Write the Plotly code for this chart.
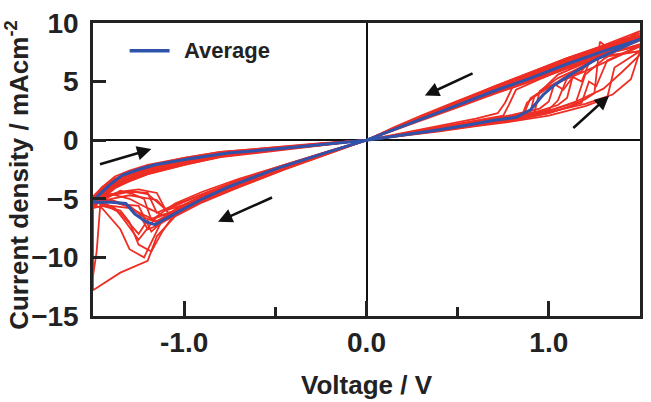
import plotly.graph_objects as go

# ---------------- data ----------------
avg_v = [0, 0.2, 0.4, 0.55, 0.7, 0.82, 0.9, 0.97, 1.03, 1.14, 1.26, 1.4, 1.5,
         1.3, 1.1, 0.9, 0.7, 0.5, 0.3, 0.15, 0,
         -0.2, -0.49, -0.76, -0.9, -1.03, -1.1, -1.16, -1.21, -1.27, -1.32, -1.4, -1.5,
         -1.47, -1.4, -1.34, -1.25, -1.16, -0.98, -0.76, -0.5, -0.25, 0]
avg_i = [0, 0.43, 0.9, 1.27, 1.7, 1.95, 2.6, 3.9, 4.7, 5.8, 6.9, 7.9, 8.6,
         7.6, 6.5, 5.3, 4.2, 3.0, 1.8, 0.9, 0,
         -0.95, -2.4, -4.0, -5.0, -6.1, -6.7, -7.2, -6.95, -6.3, -5.4, -5.3, -5.3,
         -4.7, -3.7, -3.0, -2.5, -2.1, -1.6, -1.1, -0.75, -0.35, 0]

cyc1_v = [0, 0.2, 0.4, 0.6, 0.8, 0.92, 0.95, 1.05, 1.2, 1.35, 1.5, 1.3, 1.1, 0.9, 0.7, 0.5, 0.3, 0.15, 0,
          -0.2, -0.45, -0.7, -0.9, -1.05, -1.15, -1.22, -1.3, -1.4, -1.5,
          -1.45, -1.38, -1.3, -1.2, -1.0, -0.8, -0.5, -0.25, 0]
cyc1_i = [0, 0.45, 0.95, 1.45, 1.9, 2.3, 4.2, 5.3, 6.4, 7.6, 8.8, 7.7, 6.6, 5.4, 4.3, 3.1, 1.9, 0.95, 0,
          -1.0, -2.3, -3.7, -4.9, -6.0, -7.0, -6.6, -5.6, -5.2, -5.4,
          -4.6, -3.7, -3.2, -2.6, -1.8, -1.25, -0.75, -0.35, 0]

cyc2_v = [0, 0.2, 0.4, 0.6, 0.75, 0.78, 0.82, 0.95, 1.1, 1.3, 1.5, 1.3, 1.1, 0.9, 0.7, 0.5, 0.3, 0.15, 0,
          -0.2, -0.45, -0.7, -0.9, -1.05, -1.1, -1.2, -1.3, -1.4, -1.5,
          -1.45, -1.38, -1.3, -1.2, -1.0, -0.8, -0.5, -0.25, 0]
cyc2_i = [0, 0.55, 1.1, 1.65, 2.1, 3.0, 4.3, 5.2, 6.2, 7.5, 8.7, 7.8, 6.8, 5.6, 4.4, 3.2, 1.95, 1.0, 0,
          -0.9, -2.1, -3.4, -4.6, -5.6, -5.9, -4.6, -4.3, -4.6, -5.0,
          -4.2, -3.4, -2.8, -2.3, -1.6, -1.1, -0.65, -0.3, 0]

cyc3_v = [0, 0.2, 0.4, 0.6, 0.8, 1.0, 1.15, 1.3, 1.4, 1.5, 1.5, 1.3, 1.1, 0.9, 0.7, 0.5, 0.3, 0.15, 0,
          -0.2, -0.45, -0.7, -0.9, -1.05, -1.15, -1.2, -1.35, -1.5, -1.5,
          -1.45, -1.38, -1.3, -1.2, -1.0, -0.8, -0.5, -0.25, 0]
cyc3_i = [0, 0.4, 0.85, 1.3, 1.8, 2.5, 3.3, 4.4, 5.8, 7.3, 8.2, 7.3, 6.3, 5.2, 4.1, 2.9, 1.8, 0.9, 0,
          -1.1, -2.5, -4.0, -5.3, -6.5, -8.2, -10.3, -11.3, -12.8, -5.6,
          -4.9, -4.0, -3.4, -2.8, -1.9, -1.3, -0.8, -0.4, 0]

cyc4_v = [0, 0.2, 0.4, 0.6, 0.8, 0.95, 1.05, 1.1, 1.13, 1.18, 1.22, 1.3, 1.4, 1.5,
          1.3, 1.1, 0.9, 0.7, 0.5, 0.3, 0.15, 0,
          -0.2, -0.45, -0.7, -0.9, -1.05, -1.12, -1.22, -1.3, -1.35, -1.45, -1.5,
          -1.45, -1.38, -1.3, -1.2, -1.0, -0.8, -0.5, -0.25, 0]
cyc4_i = [0, 0.5, 1.0, 1.5, 2.0, 2.5, 3.0, 3.6, 5.4, 5.0, 6.6, 7.2, 8.0, 8.9,
          7.9, 6.9, 5.7, 4.5, 3.2, 2.0, 1.0, 0,
          -0.95, -2.2, -3.6, -4.8, -5.9, -6.8, -10.0, -9.3, -7.6, -5.8, -5.5,
          -4.4, -3.6, -3.0, -2.4, -1.7, -1.15, -0.7, -0.3, 0]

cyc5_v = [0, 0.2, 0.4, 0.6, 0.8, 0.86, 0.9, 1.0, 1.2, 1.4, 1.5, 1.3, 1.1, 0.9, 0.7, 0.5, 0.3, 0.15, 0,
          -0.2, -0.45, -0.7, -0.9, -1.0, -1.1, -1.15, -1.25, -1.35, -1.45, -1.5,
          -1.45, -1.38, -1.3, -1.2, -1.0, -0.8, -0.5, -0.25, 0]
cyc5_i = [0, 0.4, 0.85, 1.3, 1.75, 2.1, 3.6, 4.6, 5.9, 7.3, 8.0, 7.4, 6.3, 5.2, 4.1, 2.95, 1.8, 0.9, 0,
          -1.05, -2.4, -3.8, -4.9, -5.5, -6.0, -4.5, -4.2, -4.4, -4.9, -5.1,
          -4.5, -3.8, -3.3, -2.8, -2.0, -1.35, -0.85, -0.4, 0]

cyc6_v = [0, 0.2, 0.4, 0.6, 0.8, 1.0, 1.1, 1.2, 1.25, 1.28, 1.33, 1.4, 1.5,
          1.3, 1.1, 0.9, 0.7, 0.5, 0.3, 0.15, 0,
          -0.2, -0.45, -0.7, -0.9, -1.05, -1.15, -1.2, -1.25, -1.32, -1.4, -1.5,
          -1.45, -1.38, -1.3, -1.2, -1.0, -0.8, -0.5, -0.25, 0]
cyc6_i = [0, 0.4, 0.8, 1.25, 1.7, 2.3, 2.8, 3.5, 4.0, 8.4, 7.8, 8.6, 8.9,
          7.5, 6.5, 5.3, 4.2, 3.0, 1.85, 0.9, 0,
          -1.0, -2.35, -3.9, -5.2, -6.4, -7.3, -7.6, -6.2, -5.6, -5.2, -5.0,
          -4.3, -3.5, -3.0, -2.5, -1.8, -1.2, -0.75, -0.35, 0]

cyc7_v = [0, 0.2, 0.4, 0.6, 0.8, 0.95, 1.0, 1.03, 1.08, 1.15, 1.25, 1.4, 1.5,
          1.3, 1.1, 0.9, 0.7, 0.5, 0.3, 0.15, 0,
          -0.2, -0.45, -0.7, -0.9, -1.05, -1.15, -1.25, -1.32, -1.38, -1.45, -1.5,
          -1.45, -1.38, -1.3, -1.2, -1.0, -0.8, -0.5, -0.25, 0]
cyc7_i = [0, 0.5, 1.05, 1.6, 2.15, 2.7, 3.3, 4.8, 4.3, 5.8, 6.8, 8.3, 9.3,
          8.1, 7.0, 5.8, 4.6, 3.3, 2.05, 1.05, 0,
          -0.9, -2.1, -3.3, -4.4, -5.4, -6.5, -8.5, -7.0, -5.8, -5.3, -5.2,
          -4.2, -3.3, -2.7, -2.2, -1.5, -1.0, -0.6, -0.25, 0]

cyc8_v = [0, 0.2, 0.4, 0.6, 0.72, 0.76, 0.8, 0.9, 1.1, 1.3, 1.5, 1.3, 1.1, 0.9, 0.7, 0.5, 0.3, 0.15, 0,
          -0.2, -0.45, -0.7, -0.9, -1.05, -1.18, -1.22, -1.28, -1.35, -1.42, -1.5,
          -1.45, -1.38, -1.3, -1.2, -1.0, -0.8, -0.5, -0.25, 0]
cyc8_i = [0, 0.6, 1.2, 1.85, 2.3, 3.2, 4.5, 5.5, 6.8, 7.9, 9.1, 8.0, 7.0, 5.8, 4.6, 3.35, 2.1, 1.1, 0,
          -1.05, -2.45, -3.9, -5.1, -6.0, -6.8, -5.0, -4.6, -4.3, -4.9, -5.6,
          -4.8, -4.0, -3.5, -2.9, -2.1, -1.45, -0.9, -0.45, 0]

cyc9_v = [0, 0.2, 0.4, 0.6, 0.8, 1.0, 1.2, 1.32, 1.36, 1.42, 1.5, 1.3, 1.1, 0.9, 0.7, 0.5, 0.3, 0.15, 0,
          -0.2, -0.45, -0.7, -0.9, -1.05, -1.12, -1.18, -1.25, -1.3, -1.35, -1.45, -1.5,
          -1.45, -1.38, -1.3, -1.2, -1.0, -0.8, -0.5, -0.25, 0]
cyc9_i = [0, 0.35, 0.75, 1.2, 1.6, 2.1, 2.9, 3.6, 6.2, 6.8, 7.6, 7.1, 6.1, 5.0, 3.95, 2.8, 1.7, 0.85, 0,
          -1.1, -2.5, -4.0, -5.2, -6.2, -7.8, -9.5, -8.9, -7.0, -6.0, -5.6, -5.8,
          -5.0, -4.1, -3.5, -2.9, -2.1, -1.4, -0.85, -0.4, 0]

cyc10_v = [0, 0.2, 0.4, 0.6, 0.8, 1.0, 1.1, 1.15, 1.2, 1.3, 1.4, 1.5,
           1.3, 1.1, 0.9, 0.7, 0.5, 0.3, 0.15, 0,
           -0.2, -0.45, -0.7, -0.9, -1.05, -1.15, -1.22, -1.3, -1.4, -1.46, -1.48, -1.5, -1.5,
           -1.45, -1.38, -1.3, -1.2, -1.0, -0.8, -0.5, -0.25, 0]
cyc10_i = [0, 0.45, 0.9, 1.4, 1.9, 2.5, 3.0, 3.3, 5.6, 6.9, 7.9, 8.9,
           7.8, 6.7, 5.5, 4.35, 3.1, 1.9, 0.95, 0,
           -0.95, -2.3, -3.7, -4.9, -6.0, -6.9, -6.4, -5.8, -5.6, -5.5, -9.5, -11.6, -5.0,
           -4.0, -3.1, -2.6, -2.1, -1.5, -1.0, -0.6, -0.3, 0]

cyc11_v = [0, 0.2, 0.4, 0.6, 0.8, 0.85, 0.88, 0.95, 1.05, 1.2, 1.35, 1.5,
           1.3, 1.1, 0.9, 0.7, 0.5, 0.3, 0.15, 0,
           -0.2, -0.45, -0.7, -0.9, -1.0, -1.08, -1.15, -1.22, -1.3, -1.4, -1.5,
           -1.45, -1.38, -1.3, -1.2, -1.0, -0.8, -0.5, -0.25, 0]
cyc11_i = [0, 0.42, 0.88, 1.35, 1.85, 2.0, 3.2, 4.1, 5.6, 6.6, 7.9, 8.7,
           7.7, 6.6, 5.5, 4.3, 3.1, 1.9, 0.95, 0,
           -1.0, -2.3, -3.6, -4.7, -5.5, -6.3, -5.1, -4.9, -4.7, -5.0, -5.3,
           -4.7, -3.9, -3.3, -2.7, -1.9, -1.3, -0.8, -0.4, 0]

cyc12_v = [0, 0.2, 0.4, 0.6, 0.8, 1.0, 1.05, 1.1, 1.18, 1.25, 1.35, 1.5,
           1.3, 1.1, 0.9, 0.7, 0.5, 0.3, 0.15, 0,
           -0.2, -0.45, -0.7, -0.9, -1.05, -1.18, -1.25, -1.32, -1.4, -1.5,
           -1.45, -1.38, -1.3, -1.2, -1.0, -0.8, -0.5, -0.25, 0]
cyc12_i = [0, 0.48, 0.98, 1.5, 2.0, 2.6, 3.4, 5.3, 5.9, 7.3, 7.6, 8.5,
           7.6, 6.6, 5.45, 4.35, 3.15, 1.95, 1.0, 0,
           -0.9, -2.15, -3.5, -4.7, -6.0, -7.8, -5.6, -5.5, -5.1, -5.2,
           -4.4, -3.5, -3.0, -2.4, -1.7, -1.15, -0.7, -0.3, 0]

cyc13_v = [0, 0.2, 0.4, 0.6, 0.8, 0.9, 0.92, 1.0, 1.15, 1.3, 1.5,
           1.3, 1.1, 0.9, 0.7, 0.5, 0.3, 0.15, 0,
           -0.2, -0.45, -0.7, -0.9, -1.05, -1.1, -1.2, -1.3, -1.4, -1.5,
           -1.45, -1.38, -1.3, -1.2, -1.0, -0.8, -0.5, -0.25, 0]
cyc13_i = [0, 0.5, 1.0, 1.55, 2.1, 2.5, 3.7, 4.5, 6.0, 7.3, 8.6,
           7.9, 6.8, 5.6, 4.4, 3.2, 2.0, 1.0, 0,
           -1.0, -2.4, -3.85, -5.0, -6.1, -6.5, -5.8, -5.0, -4.6, -4.8,
           -4.0, -3.3, -2.9, -2.4, -1.7, -1.15, -0.7, -0.35, 0]

cyc14_v = [0, 0.2, 0.4, 0.6, 0.8, 1.0, 1.12, 1.18, 1.22, 1.26, 1.32, 1.4, 1.5,
           1.3, 1.1, 0.9, 0.7, 0.5, 0.3, 0.15, 0,
           -0.2, -0.45, -0.7, -0.9, -1.05, -1.2, -1.25, -1.35, -1.45, -1.5,
           -1.45, -1.38, -1.3, -1.2, -1.0, -0.8, -0.5, -0.25, 0]
cyc14_i = [0, 0.38, 0.8, 1.25, 1.7, 2.3, 2.9, 3.2, 5.0, 4.6, 6.8, 7.4, 8.1,
           7.3, 6.3, 5.2, 4.1, 2.95, 1.8, 0.9, 0,
           -1.0, -2.35, -3.8, -5.0, -6.0, -6.8, -8.0, -6.2, -5.4, -5.3,
           -4.6, -3.8, -3.2, -2.6, -1.85, -1.25, -0.8, -0.4, 0]

cyc15_v = [0, 0.2, 0.4, 0.6, 0.8, 1.0, 1.2, 1.35, 1.45, 1.5,
           1.3, 1.1, 0.9, 0.7, 0.5, 0.3, 0.15, 0,
           -0.2, -0.45, -0.7, -0.9, -1.05, -1.15, -1.2, -1.3, -1.4, -1.5,
           -1.45, -1.38, -1.3, -1.2, -1.0, -0.8, -0.5, -0.25, 0]
cyc15_i = [0, 0.45, 0.9, 1.35, 1.85, 2.4, 3.1, 3.9, 5.2, 7.6,
           7.2, 6.2, 5.1, 4.0, 2.85, 1.75, 0.85, 0,
           -0.95, -2.2, -3.5, -4.6, -5.5, -6.2, -4.5, -4.4, -4.7, -5.1,
           -4.2, -3.5, -3.0, -2.5, -1.75, -1.2, -0.7, -0.3, 0]

cycles = [(cyc1_v, cyc1_i), (cyc2_v, cyc2_i), (cyc3_v, cyc3_i), (cyc4_v, cyc4_i),
          (cyc5_v, cyc5_i), (cyc6_v, cyc6_i), (cyc7_v, cyc7_i), (cyc8_v, cyc8_i),
          (cyc9_v, cyc9_i), (cyc10_v, cyc10_i), (cyc11_v, cyc11_i), (cyc12_v, cyc12_i),
          (cyc13_v, cyc13_i), (cyc14_v, cyc14_i), (cyc15_v, cyc15_i)]

# arrows: (tail V, tail I, head V, head I)
arrow_tail_v = [-1.47, -0.51, 0.59, 1.126]
arrow_tail_i = [-2.1, -4.83, 5.76, 0.93]
arrow_head_v = [-1.18, -0.814, 0.32, 1.33]
arrow_head_i = [-0.76, -6.95, 3.81, 3.8]

x_tickvals = [-1.0, 0.0, 1.0]
x_ticktext = ["-1.0", "0.0", "1.0"]
y_tickvals = [-15, -10, -5, 0, 5, 10]

legend_label = "Average"

# ---------------- figure ----------------
RED = "#ee2e24"
BLUE = "#2f52ab"
INK = "#222222"
FONT = "Liberation Sans, Arial, sans-serif"

fig = go.Figure()
for v, i in cycles:
    fig.add_trace(go.Scatter(x=v, y=i, mode="lines",
                             line=dict(color=RED, width=1.8),
                             showlegend=False, hoverinfo="skip"))
fig.add_trace(go.Scatter(x=avg_v, y=avg_i, mode="lines",
                         line=dict(color=BLUE, width=3),
                         name=legend_label, showlegend=False))

for tv, ti, hv, hi in zip(arrow_tail_v, arrow_tail_i, arrow_head_v, arrow_head_i):
    fig.add_annotation(x=hv, y=hi, ax=tv, ay=ti, xref="x", yref="y",
                       axref="x", ayref="y", text="", showarrow=True,
                       arrowhead=2, arrowsize=1.1, arrowwidth=2.6,
                       arrowcolor="#111111", standoff=0, startstandoff=0)

# legend (drawn manually to match the sample length)
fig.add_shape(type="line", xref="paper", yref="paper",
              x0=0.067, x1=0.140, y0=0.905, y1=0.905,
              line=dict(color=BLUE, width=3.5))
fig.add_annotation(xref="paper", yref="paper", x=0.162, y=0.905,
                   text=legend_label, showarrow=False, xanchor="left", yanchor="middle",
                   font=dict(family=FONT, size=22, color=INK, weight="bold"))

# axis titles
fig.add_annotation(xref="paper", yref="paper", x=0.5, y=-0.235,
                   text="Voltage / V", showarrow=False, xanchor="center", yanchor="middle",
                   font=dict(family=FONT, size=26, color=INK, weight="bold"))
fig.add_annotation(xref="paper", yref="paper", x=-0.138, y=0.48,
                   text="Current density / mAcm<sup>-2</sup>", showarrow=False,
                   textangle=-90, xanchor="center", yanchor="middle",
                   font=dict(family=FONT, size=26, color=INK, weight="bold"))

fig.update_xaxes(range=[-1.5, 1.5], tickvals=x_tickvals, ticktext=x_ticktext,
                 ticks="inside", ticklen=15, tickwidth=2.5, tickcolor=INK,
                 minor=dict(tickvals=[-0.5, 0.5], ticks="inside", ticklen=9,
                            tickwidth=2.5, tickcolor=INK, showgrid=False),
                 showline=True, mirror=True, linecolor=INK, linewidth=2.5,
                 showgrid=False, zeroline=True, zerolinecolor="#111111", zerolinewidth=2,
                 tickfont=dict(family=FONT, size=28, color=INK, weight="bold"),
                 ticklabelstandoff=0)
fig.update_yaxes(range=[-15, 10], tickvals=y_tickvals,
                 ticks="inside", ticklen=13, tickwidth=2.5, tickcolor=INK,
                 showline=True, mirror=True, linecolor=INK, linewidth=2.5,
                 showgrid=False, zeroline=True, zerolinecolor="#111111", zerolinewidth=2,
                 tickfont=dict(family=FONT, size=28, color=INK, weight="bold"),
                 ticklabelstandoff=6)

fig.update_layout(width=651, height=402,
                  margin=dict(l=93, r=8, t=20, b=86),
                  paper_bgcolor="white", plot_bgcolor="white",
                  showlegend=False)

fig.write_html("out.html")
